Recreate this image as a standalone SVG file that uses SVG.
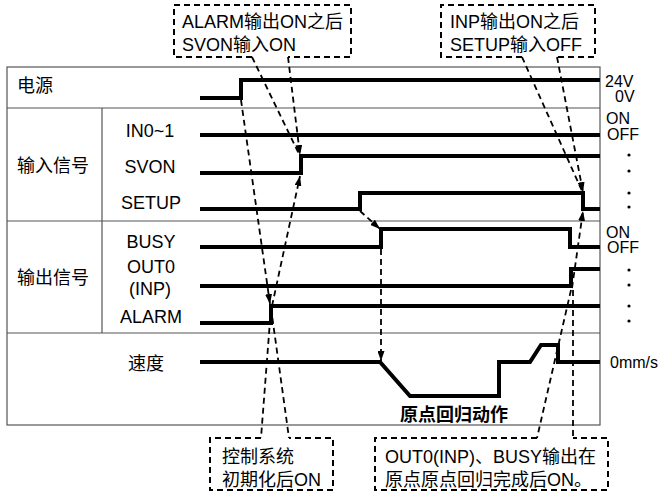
<svg xmlns="http://www.w3.org/2000/svg" width="662" height="493" viewBox="0 0 662 493">
<defs>
<style>
text{font-family:"Liberation Sans","Noto Sans CJK SC",sans-serif;fill:#000}
.lbl{font-size:18px}
.sig{font-size:18px;text-anchor:middle}
.rl{font-size:16px}
.frame{fill:none;stroke:#555;stroke-width:1.2}
.wave{fill:none;stroke:#000;stroke-width:4;stroke-linejoin:miter}
.box{fill:none;stroke:#000;stroke-width:2;stroke-dasharray:6 4}
.lead{fill:none;stroke:#000;stroke-width:1.8;stroke-dasharray:6 4}
.arr{marker-end:url(#ah)}
</style>
<marker id="ah" viewBox="0 0 10 7" refX="10" refY="3.5" markerWidth="10" markerHeight="7" markerUnits="userSpaceOnUse" orient="auto">
<path d="M0,0 L10,3.5 L0,7 z" fill="#000"/>
</marker>
</defs>
<rect width="662" height="493" fill="#fff"/>

<g id="frame">
<rect class="frame" x="7" y="67" width="593" height="358"/>
<line class="frame" x1="7" y1="108" x2="600" y2="108"/>
<line class="frame" x1="7" y1="221" x2="600" y2="221"/>
<line class="frame" x1="7" y1="333" x2="600" y2="333"/>
<line class="frame" x1="102" y1="108" x2="102" y2="333"/>
</g>

<g id="row-labels">
<text class="lbl" x="17" y="92">电源</text>
<text class="lbl" x="17" y="172">输入信号</text>
<text class="lbl" x="17" y="284">输出信号</text>
<text class="lbl" x="128" y="370">速度</text>
<text class="sig" x="150" y="137">IN0~1</text>
<text class="sig" x="150" y="173">SVON</text>
<text class="sig" x="151" y="209">SETUP</text>
<text class="sig" x="151" y="248">BUSY</text>
<text class="sig" x="151" y="273">OUT0</text>
<text class="sig" x="150" y="295">(INP)</text>
<text class="sig" x="151" y="323">ALARM</text>
<text class="lbl" x="454" y="421" text-anchor="middle" font-weight="bold" font-size="17">原点回归动作</text>
</g>

<g id="right-labels">
<text class="rl" x="605" y="87">24V</text>
<text class="rl" x="615" y="102">0V</text>
<text class="rl" x="606" y="124">ON</text>
<text class="rl" x="607" y="140">OFF</text>
<text class="rl" x="606" y="238">ON</text>
<text class="rl" x="607" y="253">OFF</text>
<text class="rl" x="610" y="368">0mm/s</text>
<g fill="#000">
<circle cx="629" cy="155" r="1.6"/><circle cx="629" cy="171" r="1.6"/>
<circle cx="629" cy="193" r="1.6"/><circle cx="629" cy="207" r="1.6"/>
<circle cx="629" cy="270" r="1.6"/><circle cx="629" cy="285" r="1.6"/>
<circle cx="629" cy="306" r="1.6"/><circle cx="629" cy="321" r="1.6"/>
</g>
</g>

<g id="waveforms">
<polyline id="power" class="wave" points="200,98 241,98 241,80 600,80"/>
<polyline id="in01" class="wave" points="200,135 600,135"/>
<polyline id="svon" class="wave" points="200,173 301,173 301,156 600,156"/>
<polyline id="setup" class="wave" points="200,209 360,209 360,193 583,193 583,209 600,209"/>
<polyline id="busy" class="wave" points="200,247 381,247 381,229 570,229 570,247 600,247"/>
<polyline id="out0" class="wave" points="200,286 571,286 571,269 600,269"/>
<polyline id="alarm" class="wave" points="200,323 271,323 271,306 600,306"/>
<polyline id="speed" class="wave" points="200,362 380,362 410,396 499,396 499,362 530,362 541,345 558,345 558,362 600,362"/>
</g>

<g id="callout-alarm">
<path class="box" d="M252,57 L174,57 L174,5 L351,5 L351,57 L288,57"/>
<text class="lbl" x="182" y="28">ALARM输出ON之后</text>
<text class="lbl" x="182" y="51">SVON输入ON</text>
</g>
<g id="callout-inp">
<path class="box" d="M522,57 L441,57 L441,5 L595,5 L595,57 L557,57"/>
<text class="lbl" x="450" y="28">INP输出ON之后</text>
<text class="lbl" x="450" y="51">SETUP输入OFF</text>
</g>
<g id="callout-init">
<path class="box" d="M261,438 L210,438 L210,490 L333,490 L333,438 L289,438"/>
<text class="lbl" x="222" y="463">控制系统</text>
<text class="lbl" x="222" y="486">初期化后ON</text>
</g>
<g id="callout-home">
<path class="box" d="M537,438 L375,438 L375,490 L608,490 L608,438 L573,438"/>
<text class="lbl" x="385" y="463">OUT0(INP)、BUSY输出在</text>
<text class="lbl" x="385" y="486">原点原点回归完成后ON。</text>
</g>

<g id="connectors">
<line class="lead" x1="252" y1="57" x2="299" y2="154"/>
<line class="lead arr" x1="288" y1="57" x2="300" y2="155"/>
<line class="lead" x1="522" y1="57" x2="582" y2="191"/>
<line class="lead arr" x1="557" y1="57" x2="583" y2="192"/>
<line class="lead arr" x1="241" y1="100" x2="270" y2="304"/>
<line class="lead arr" x1="272" y1="306" x2="300" y2="176"/>
<line class="lead arr" x1="360" y1="211" x2="380" y2="229"/>
<line class="lead arr" x1="381" y1="249" x2="381" y2="361"/>
<line class="lead arr" x1="572" y1="288" x2="583" y2="211"/>
<line class="lead" x1="271" y1="308" x2="261" y2="438"/>
<line class="lead" x1="271" y1="308" x2="289" y2="438"/>
<line class="lead" x1="571" y1="290" x2="537" y2="438"/>
<line class="lead" x1="573" y1="290" x2="573" y2="438"/>
</g>
</svg>
